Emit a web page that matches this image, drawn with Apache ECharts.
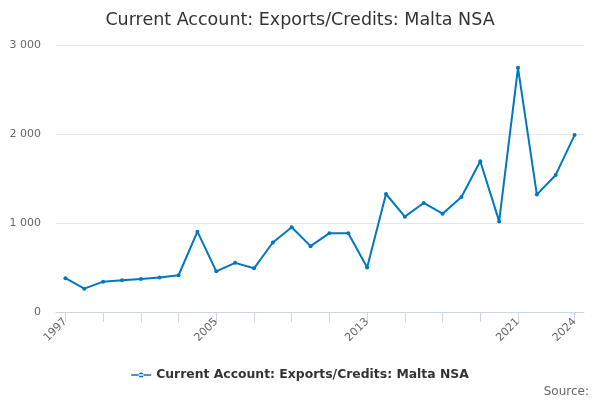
<!DOCTYPE html>
<html><head><meta charset="utf-8">
<script src="https://cdn.jsdelivr.net/npm/echarts@6/dist/echarts.min.js"></script>
<style>html,body{margin:0;padding:0;background:#fff}#c{width:600px;height:400px}</style>
</head><body><div id="c"></div>
<script>
var years = ['1997','1998','1999','2000','2001','2002','2003','2004','2005','2006','2007','2008','2009','2010','2011','2012','2013','2014','2015','2016','2017','2018','2019','2020','2021','2022','2023','2024'];
var values = [380,262,341,356,372,387,413,903,457,552,491,781,952,740,886,886,500,1326,1071,1225,1105,1292,1694,1018,2743,1319,1540,1988];
var labelYears = ['1997','2005','2013','2021','2024'];
var tickYears = ['1997','1999','2001','2003','2005','2007','2009','2011','2013','2015','2017','2019','2021','2024'];
var seriesName = 'Current Account: Exports/Credits: Malta NSA';

var chart = echarts.init(document.getElementById('c'), null, {renderer:'canvas'});
chart.setOption({
  animation:false,
  textStyle:{fontFamily:'DejaVu Sans'},
  title:{text:'Current Account: Exports/Credits: Malta NSA', left:'center', top:6,
    textStyle:{fontSize:17.5, fontWeight:'normal', color:'#333', fontFamily:'DejaVu Sans'}},
  grid:{left:56, right:16, top:45, bottom:88},
  legend:{bottom:14, left:'center', itemWidth:20, itemHeight:8, icon:'path://M0,3.2L20,3.2L20,4.8L0,4.8Z M7.5,4A2.5,2.5 0 1,0 12.5,4A2.5,2.5 0 1,0 7.5,4Z',
    textStyle:{fontSize:12.4, fontWeight:'bold', color:'#333', fontFamily:'DejaVu Sans'}},
  graphic:[{type:'text', right:11, bottom:2, style:{text:'Source:', fontSize:12, fill:'#666', fontFamily:'DejaVu Sans'}}],
  xAxis:{type:'category', data:years, boundaryGap:true,
    axisLine:{show:true, lineStyle:{color:'#ccd6eb'}},
    axisTick:{show:true, alignWithLabel:true, length:10, lineStyle:{color:'#ccd6eb'},
      interval:function(i,v){ return tickYears.indexOf(String(v))>=0; }},
    axisLabel:{rotate:45, color:'#666', fontSize:11, margin:8,
      interval:function(i,v){ return labelYears.indexOf(String(v))>=0; }}},
  yAxis:{type:'value', min:0, max:3000, interval:1000,
    axisLine:{show:false}, axisTick:{show:false},
    splitLine:{lineStyle:{color:'#e6e6e6'}},
    axisLabel:{color:'#666', fontSize:11, margin:15,
      formatter:function(v){ return String(v).replace(/\B(?=(\d{3})+(?!\d))/g,' '); }}},
  series:[{name:seriesName, type:'line', data:values, color:'#0077c0',
    lineStyle:{width:2}, symbol:'circle', symbolSize:4, showSymbol:true}]
});
</script></body></html>
